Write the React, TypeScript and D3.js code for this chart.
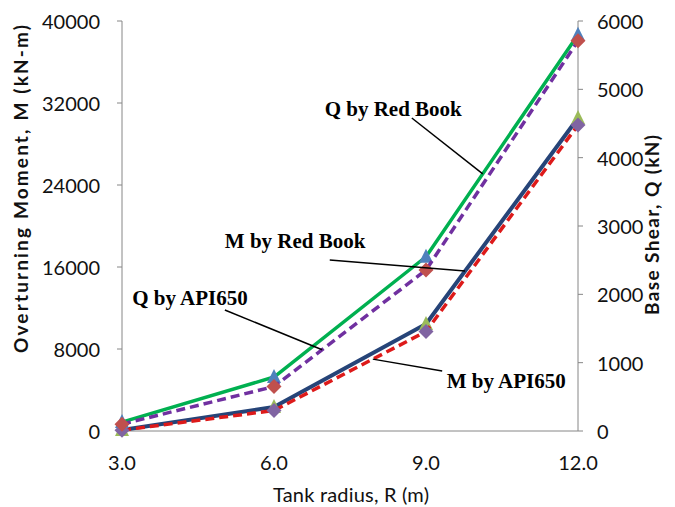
import * as d3 from 'd3';

// tank radius (m) on the x axis
const radius = [3, 6, 9, 12];
const radiusLabels = ['3.0', '6.0', '9.0', '12.0'];
const momentTicks = [0, 8000, 16000, 24000, 32000, 40000];
const shearTicks = [0, 1000, 2000, 3000, 4000, 5000, 6000];

// overturning moment (kN-m), left axis
const mRedBook = [100, 2340, 10440, 30540];
const mApi650 = [80, 2000, 9710, 29850];
// base shear (kN), right axis
const qRedBook = [130, 790, 2550, 5800];
const qApi650 = [100, 650, 2355, 5710];

type Series = {
  key: string;
  values: number[];
  axis: 'M' | 'Q';
  stroke: string;
  dash?: string;
  width: number;
  marker: 'triangle' | 'diamond';
  markerFill: string;
};

// drawn in Excel order: primary axis first, secondary on top
const series: Series[] = [
  { key: 'mRed', values: mRedBook, axis: 'M', stroke: '#264478', width: 4, marker: 'triangle', markerFill: '#9BBB59' },
  { key: 'mApi', values: mApi650, axis: 'M', stroke: '#DD1A1A', dash: '9,5', width: 3.5, marker: 'diamond', markerFill: '#8064A2' },
  { key: 'qRed', values: qRedBook, axis: 'Q', stroke: '#00B050', width: 3.5, marker: 'triangle', markerFill: '#4F81BD' },
  { key: 'qApi', values: qApi650, axis: 'Q', stroke: '#7030A0', dash: '9,5', width: 3.5, marker: 'diamond', markerFill: '#C0504D' },
];

// callouts: text position and pointer start in data units (x, moment), pointer end on a series
const callouts = [
  { text: 'Q by Red Book', x: 7.0, m: 30730, fromX: 8.72, fromM: 30540, series: 'qRed', atX: 10.12 },
  { text: 'M by Red Book', x: 5.03, m: 17850, fromX: 7.1, fromM: 16680, series: 'mRed', atX: 9.77 },
  { text: 'Q by API650', x: 3.2, m: 12290, fromX: 5.03, fromM: 11800, series: 'qApi', atX: 6.95 },
  { text: 'M by API650', x: 9.41, m: 4200, fromX: 9.32, fromM: 5850, series: 'mApi', atX: 7.95 },
];

const W = 675;
const H = 507;
const plot = { left: 122, right: 578, top: 21, bottom: 431 };
const axisColor = '#868686';
const tickFont = 'Lato, "Open Sans", sans-serif';

export default function App() {
  const x = d3.scaleLinear().domain([3, 12]).range([plot.left, plot.right]);
  const yM = d3.scaleLinear().domain([0, 40000]).range([plot.bottom, plot.top]);
  const yQ = d3.scaleLinear().domain([0, 6000]).range([plot.bottom, plot.top]);
  const yOf = (s: Series) => (s.axis === 'M' ? yM : yQ);

  const pathFor = (s: Series) =>
    d3
      .line<number>()
      .x((_, i) => x(radius[i]))
      .y((d) => yOf(s)(d))(s.values) ?? '';

  const markerPath = (kind: string, cx: number, cy: number) => {
    if (kind === 'diamond') {
      const r = 7.5;
      return `M${cx},${cy - r}L${cx + r},${cy}L${cx},${cy + r}L${cx - r},${cy}Z`;
    }
    const hw = 7;
    return `M${cx},${cy - 8}L${cx + hw},${cy + 6}L${cx - hw},${cy + 6}Z`;
  };

  // point on a series polyline at a given radius
  const pointOn = (key: string, at: number) => {
    const s = series.find((d) => d.key === key)!;
    const i = Math.min(radius.length - 2, d3.bisectRight(radius, at) - 1);
    const t = (at - radius[i]) / (radius[i + 1] - radius[i]);
    const v = s.values[i] + (s.values[i + 1] - s.values[i]) * t;
    return [x(at), yOf(s)(v)];
  };

  return (
    <svg
      width={W}
      height={H}
      style={{ position: 'absolute', left: 0, top: 0, background: '#fff' }}
    >
      {/* axes */}
      <g stroke={axisColor} strokeWidth={1} fill="none">
        <line x1={plot.left} x2={plot.left} y1={plot.top} y2={plot.bottom} />
        <line x1={plot.right} x2={plot.right} y1={plot.top} y2={plot.bottom} />
        <line x1={plot.left} x2={plot.right} y1={plot.bottom} y2={plot.bottom} />
        {momentTicks.map((t) => (
          <line key={'lm' + t} x1={plot.left - 5} x2={plot.left} y1={yM(t)} y2={yM(t)} />
        ))}
        {shearTicks.map((t) => (
          <line key={'rq' + t} x1={plot.right} x2={plot.right + 5} y1={yQ(t)} y2={yQ(t)} />
        ))}
      </g>

      <g fontFamily={tickFont} fontSize={20} fill="#111">
        {momentTicks.map((t) => (
          <text key={'m' + t} x={100} y={yM(t)} textAnchor="end" dominantBaseline="central">
            {t}
          </text>
        ))}
        {shearTicks.map((t) => (
          <text key={'q' + t} x={597} y={yQ(t)} textAnchor="start" dominantBaseline="central">
            {t}
          </text>
        ))}
        {radius.map((r, i) => (
          <text key={'x' + r} x={x(r)} y={462} textAnchor="middle" dominantBaseline="central">
            {radiusLabels[i]}
          </text>
        ))}
      </g>

      {/* axis titles */}
      <g fontFamily={tickFont} fontSize={19} fontWeight="bold" fill="#111">
        <text
          transform="translate(20,189) rotate(-90)"
          textAnchor="middle"
          dominantBaseline="central"
          textLength={328}
          lengthAdjust="spacing"
        >
          Overturning Moment, M (kN-m)
        </text>
        <text
          transform="translate(651,225) rotate(-90)"
          textAnchor="middle"
          dominantBaseline="central"
          textLength={180}
          lengthAdjust="spacing"
        >
          Base Shear, Q (kN)
        </text>
        <text
          x={351}
          y={494}
          textAnchor="middle"
          dominantBaseline="central"
          fontWeight="normal"
          fontSize={20}
          textLength={156}
          lengthAdjust="spacing"
        >
          Tank radius, R (m)
        </text>
      </g>

      {/* series */}
      {series.map((s) => (
        <g key={s.key}>
          <path
            d={pathFor(s)}
            fill="none"
            stroke={s.stroke}
            strokeWidth={s.width}
            strokeDasharray={s.dash}
            strokeLinejoin="round"
          />
          {s.values.map((v, i) => (
            <path key={i} d={markerPath(s.marker, x(radius[i]), yOf(s)(v))} fill={s.markerFill} />
          ))}
        </g>
      ))}

      {/* callouts */}
      {callouts.map((c) => {
        const [tx, ty] = pointOn(c.series, c.atX);
        return (
          <g key={c.text}>
            <line x1={x(c.fromX)} y1={yM(c.fromM)} x2={tx} y2={ty} stroke="#000" strokeWidth={1.5} />
            <text
              x={x(c.x)}
              y={yM(c.m)}
              fontFamily='"Liberation Serif", "Times New Roman", serif'
              fontWeight="bold"
              fontSize={21}
              fill="#000"
            >
              {c.text}
            </text>
          </g>
        );
      })}
    </svg>
  );
}
